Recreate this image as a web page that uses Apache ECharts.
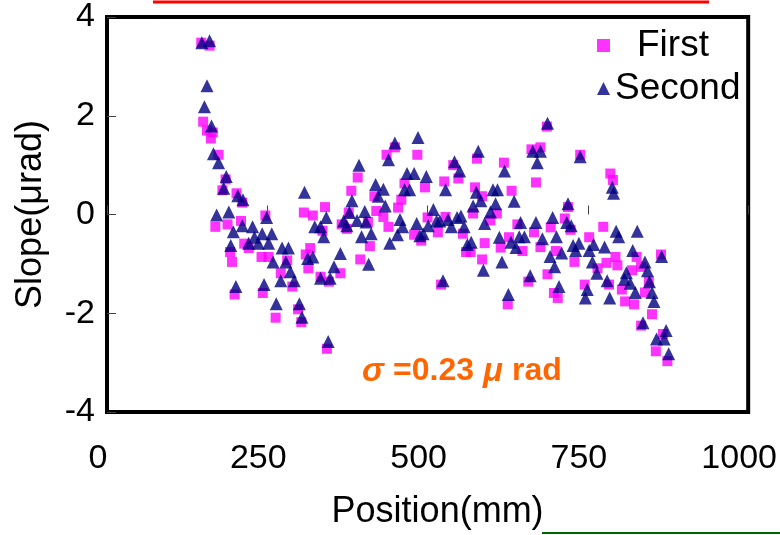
<!DOCTYPE html>
<html>
<head>
<meta charset="utf-8">
<script src="https://cdn.jsdelivr.net/npm/echarts@6/dist/echarts.min.js"></script>
<style>
  html, body { margin: 0; padding: 0; background: #fff; }
  #main { width: 780px; height: 535px; }
</style>
</head>
<body>
<div id="main"></div>
<script>
// position (mm), slope (urad)
var firstPoints = [
    [147, 3.48], [160, 3.42], [150, 1.88], [156, 1.70], [162, 1.54], [165, 1.66], [174, 1.21],
    [185, 0.71], [180, 0.49], [202, 0.43], [211, 0.24], [169, -0.25], [188, -0.20], [209, -0.13],
    [192, -0.76], [195, -0.96], [199, -1.62], [214, -0.59],
    [307, 0.04], [321, -0.02], [340, 0.15], [247, -0.02], [336, -0.33], [221, -0.68], [241, -0.86],
    [252, -0.86], [317, -0.68], [310, -0.81], [314, -1.09], [271, -1.19], [281, -0.93], [289, -1.46],
    [333, -1.26], [346, -1.36], [243, -1.59], [263, -2.09], [298, -1.92], [303, -2.18], [343, -2.72],
    [449, 1.36], [436, 1.21], [484, 1.21], [391, 0.75], [381, 0.48], [417, 0.37], [464, 0.63],
    [459, 0.30], [454, 0.14], [420, 0.07], [431, -0.05], [377, 0.04], [366, -0.20], [374, -0.29],
    [407, -0.15], [439, -0.25], [410, -0.64], [395, -0.91], [479, -0.41], [364, -1.19],
    [577, 1.13], [619, 1.05], [540, 1.00], [548, 0.73], [526, 0.67], [496, 0.55], [574, 0.55],
    [631, 0.48], [585, 0.37], [571, 0.02], [608, 0.02], [500, -0.06], [528, -0.05], [598, -0.12],
    [516, -0.36], [490, -0.53], [555, -0.39], [589, -0.58], [614, -0.67], [627, -0.46], [560, -0.76],
    [567, -0.76], [585, -0.91], [521, -1.42], [625, -1.82],
    [686, 1.78], [662, 1.32], [676, 1.36], [738, 1.21], [669, 0.65], [719, 0.15], [714, -0.08],
    [640, -0.20], [666, -0.36], [692, -0.26], [723, -0.31], [752, -0.46], [676, -0.66], [648, -0.74],
    [700, -0.74], [729, -0.96], [687, -1.21], [765, -1.09], [657, -1.36], [697, -1.59], [703, -1.69],
    [745, -1.42],
    [785, 0.83], [789, 0.70], [774, -0.25], [793, -0.86], [826, -0.86], [779, -0.98], [796, -1.03],
    [864, -0.81], [819, -1.13], [833, -1.06], [845, -1.36], [803, -1.52], [839, -1.58], [808, -1.76],
    [822, -1.82], [783, -1.42], [850, -2.02], [833, -2.25], [867, -2.42], [856, -2.77], [874, -2.97]
];
var secondPoints = [
    [148, 3.48], [160, 3.52], [156, 2.61], [152, 2.18], [163, 1.79], [166, 1.23], [174, 1.05],
    [186, 0.77], [182, 0.53], [204, 0.38], [212, 0.30], [171, -0.01], [190, 0.05], [197, -0.35],
    [211, -0.23], [193, -0.63], [201, -1.46],
    [308, 0.45], [249, -0.06], [227, -0.25], [342, -0.06], [324, -0.25], [333, -0.25], [338, -0.45],
    [242, -0.39], [257, -0.39], [230, -0.46], [221, -0.58], [236, -0.58], [252, -0.58], [273, -0.68],
    [283, -0.68], [259, -0.96], [279, -0.96], [313, -0.89], [321, -0.86], [286, -1.16], [271, -1.34],
    [292, -1.34], [245, -1.42], [333, -1.29], [348, -1.29], [354, -1.06], [264, -1.81], [300, -1.81],
    [304, -2.08], [345, -2.57],
    [449, 1.45], [485, 1.56], [439, 1.11], [393, 1.00], [419, 0.61], [431, 0.51], [468, 0.83],
    [479, 0.83], [464, 0.50], [472, 0.50], [382, 0.28], [423, 0.37], [434, 0.17], [378, 0.04],
    [402, 0.06], [369, -0.13], [390, -0.12], [404, -0.15], [457, -0.10], [374, -0.23], [461, -0.25],
    [483, -0.18], [488, -0.43], [412, -0.39], [397, -0.45], [453, -0.41], [441, -0.58], [364, -0.79],
    [408, -1.01],
    [579, 1.28], [542, 1.07], [550, 0.88], [620, 0.88], [498, 0.77], [528, 0.50], [576, 0.45],
    [602, 0.50], [609, 0.50], [583, 0.28], [606, 0.22], [509, 0.10], [571, 0.17], [598, 0.05],
    [532, -0.10], [546, -0.06], [552, -0.03], [514, -0.13], [519, -0.13], [501, -0.23], [537, -0.25],
    [557, -0.25], [589, -0.18], [493, -0.39], [612, -0.46], [630, -0.56], [562, -0.61], [568, -0.56],
    [616, -0.96], [587, -1.13], [524, -1.34], [626, -1.62],
    [687, 1.85], [664, 1.28], [676, 1.28], [671, 1.05], [738, 1.17], [635, 0.27], [719, 0.22],
    [645, -0.16], [669, -0.16], [695, -0.06], [717, -0.16], [724, -0.23], [643, -0.45], [651, -0.45],
    [679, -0.49], [701, -0.45], [638, -0.67], [727, -0.63], [736, -0.58], [731, -0.73], [759, -0.61],
    [752, -0.73], [709, -0.78], [691, -0.85], [698, -1.06], [757, -0.96], [764, -1.19], [660, -1.24],
    [705, -1.46], [749, -1.52], [746, -1.69],
    [788, 0.55], [790, 0.43], [794, -0.34], [798, -0.45], [827, -0.34], [776, -0.66], [820, -0.73],
    [865, -0.85], [839, -0.96], [843, -1.14], [810, -1.18], [807, -1.31], [780, -1.34], [816, -1.39],
    [846, -1.36], [824, -1.58], [850, -1.58], [853, -1.76], [784, -1.69], [836, -2.19], [872, -2.35],
    [857, -2.52], [869, -2.52], [876, -2.82]
];
var seriesNames = ['First', 'Second'];
var xTicks = [0, 1000, 250];
var yTicks = [-4, 4, 2];

var fontFamily = '"Liberation Sans", Arial, Helvetica, sans-serif';
var labelStyle = {color: '#000', fontSize: 34, fontFamily: fontFamily};

var chart  = echarts.init(document.getElementById('main'));
var option = {
    animation: false,
    backgroundColor: '#fff',
    grid: {
        left: 107,
        right: 28,
        top: 14,
        bottom: 120,
        show: true,
        borderColor: '#000',
        borderWidth: 4,
        backgroundColor: '#fff'
    },
    legend: {
        orient: 'vertical',
        left: 592,
        top: 22,
        itemWidth: 13,
        itemHeight: 13,
        itemGap: 6,
        textStyle: {color: '#000', fontSize: 37, fontFamily: fontFamily},
        data: [
            {name: seriesNames[0], icon: 'rect', textStyle: {padding: [0, 0, 0, 22]}},
            {name: seriesNames[1], icon: 'triangle'}
        ]
    },
    xAxis: {
        type: 'value',
        min: xTicks[0],
        max: xTicks[1],
        interval: xTicks[2],
        name: 'Position(mm)',
        nameLocation: 'middle',
        nameGap: 82,
        nameTextStyle: {color: '#000', fontSize: 36, fontFamily: fontFamily, padding: [0, 0, 0, 20]},
        axisLine: {show: false},
        axisTick: {show: true, inside: true, length: 9, lineStyle: {color: '#444', width: 1}},
        axisLabel: Object.assign({
            margin: 30,
            padding: [0, 18, 0, 0],
            formatter: function(v) { return String(v); }
        }, labelStyle),
        splitLine: {show: false}
    },
    yAxis: {
        type: 'value',
        min: yTicks[0],
        max: yTicks[1],
        interval: yTicks[2],
        name: 'Slope(\u03bcrad)',
        nameLocation: 'middle',
        nameRotate: 90,
        nameGap: 58,
        nameTextStyle: {color: '#000', fontSize: 36, fontFamily: fontFamily},
        axisLine: {show: false},
        axisTick: {show: true, inside: true, length: 9, lineStyle: {color: '#444', width: 1}},
        axisLabel: Object.assign({margin: 12}, labelStyle),
        splitLine: {show: false}
    },
    series: [
        {
            name: seriesNames[0],
            type: 'scatter',
            symbol: 'rect',
            symbolSize: 10,
            itemStyle: {color: '#ff00ff'},
            data: firstPoints
        },
        {
            name: seriesNames[1],
            type: 'scatter',
            symbol: 'triangle',
            symbolSize: 13,
            itemStyle: {color: '#000080'},
            data: secondPoints
        }
    ],
    graphic: [
        {
            type: 'line',
            shape: {x1: 153, y1: 2, x2: 709, y2: 2},
            style: {stroke: '#ff0000', lineWidth: 3}
        },
        {
            type: 'line',
            shape: {x1: 542, y1: 533, x2: 780, y2: 533},
            style: {stroke: '#006400', lineWidth: 2}
        },
        {
            type: 'text',
            left: 362,
            top: 355,
            style: {
                text: '{i|\u03c3 }{b|=0.23 }{i|\u03bc }{b|rad}',
                rich: {
                    i: {fontSize: 33, fontStyle: 'italic', fontWeight: 'bold', fill: '#ff6600', fontFamily: fontFamily},
                    b: {fontSize: 32, fontWeight: 'bold', fill: '#ff6600', fontFamily: fontFamily}
                }
            }
        }
    ]
};
chart.setOption(option);
</script>
</body>
</html>
